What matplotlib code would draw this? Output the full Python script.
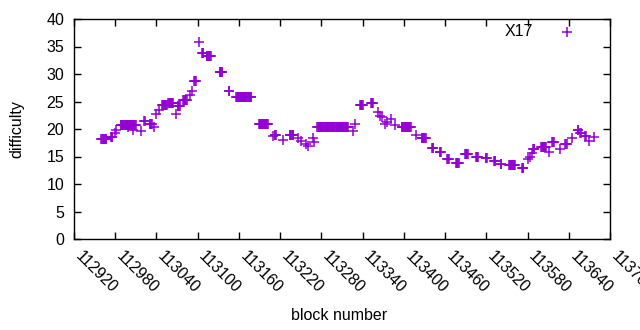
import numpy as np
import matplotlib
matplotlib.use("Agg")
import matplotlib.pyplot as plt
import matplotlib.transforms as mtransforms

plt.rcParams['font.family'] = ['Liberation Sans', 'DejaVu Sans']

# runs of blocks with the same difficulty: first block, last block, difficulty
run_start = [112960, 112974, 112979, 112981, 112988, 112999, 113006, 113018,
             113022, 113030, 113036, 113040, 113043, 113048, 113057, 113068,
             113071, 113079, 113089, 113092, 113095, 113102, 113106, 113113,
             113132, 113145, 113156, 113189, 113210, 113212, 113224, 113234,
             113246, 113250, 113258, 113261, 113268, 113269, 113274, 113326,
             113329, 113336, 113352, 113362, 113365, 113368, 113372, 113375,
             113381, 113387, 113397, 113417, 113426, 113441, 113452, 113463,
             113476, 113489, 113505, 113519, 113531, 113541, 113553, 113572,
             113581, 113583, 113586, 113588, 113600, 113611, 113616, 113627,
             113635, 113644, 113653, 113657, 113664, 113669, 113676]
run_end = [112967, 112976, 112979, 112981, 113010, 112999, 113006, 113018,
           113023, 113033, 113036, 113040, 113043, 113055, 113064, 113068,
           113074, 113084, 113089, 113092, 113097, 113102, 113108, 113119,
           113136, 113146, 113178, 113202, 113210, 113214, 113224, 113239,
           113246, 113250, 113258, 113261, 113268, 113269, 113319, 113326,
           113329, 113340, 113355, 113362, 113365, 113368, 113372, 113375,
           113381, 113387, 113410, 113417, 113432, 113443, 113454, 113465,
           113480, 113493, 113508, 113521, 113533, 113542, 113562, 113574,
           113581, 113583, 113586, 113590, 113607, 113611, 113618, 113627,
           113637, 113644, 113654, 113658, 113665, 113669, 113676]
run_diff = [18.2, 18.6, 19.3, 19.8, 20.7, 20.3, 19.8, 19.6,
            21.5, 21.0, 20.3, 22.7, 23.5, 24.3, 24.7, 22.8,
            24.1, 25.2, 26.2, 27.0, 28.8, 35.9, 33.9, 33.3,
            30.3, 26.9, 25.9, 20.9, 18.8, 18.9, 18.0, 18.9,
            18.3, 17.8, 17.3, 17.0, 18.4, 17.7, 20.3, 19.7,
            20.9, 24.4, 24.7, 23.1, 22.4, 22.2, 20.9, 21.3,
            21.8, 20.7, 20.3, 18.9, 18.3, 16.5, 15.9, 14.6,
            13.8, 15.4, 14.9, 14.7, 14.1, 13.7, 13.4, 13.0,
            14.5, 15.0, 15.6, 16.3, 16.7, 15.8, 17.6, 16.4,
            17.3, 18.3, 19.8, 19.3, 18.8, 17.9, 18.5]

blocks = []
diffs = []
for s, e, d in zip(run_start, run_end, run_diff):
    for b in range(s, e + 1):
        blocks.append(b)
        diffs.append(d)

xticks = np.arange(112920, 113701, 60)
yticks = np.arange(0, 41, 5)
purple = '#9400D3'

fig = plt.figure(figsize=(6.4, 3.3), dpi=100)
ax = fig.add_axes([74 / 640, 1 - 239 / 330, 536 / 640, 220 / 330])
ax.plot(blocks, diffs, linestyle='none', marker='+', color=purple,
        markersize=7.6, markeredgewidth=1.1)

ax.set_xlim(112920, 113700)
ax.set_ylim(0, 40)
ax.set_xticks(xticks)
ax.set_yticks(yticks)
ax.set_xticklabels([str(t) for t in xticks], rotation=-45, ha='left',
                   va='top', rotation_mode='anchor')
ax.tick_params(direction='in', top=True, right=True, length=5, width=1,
               labelsize=11.5, colors='black', pad=7)

# gnuplot puts the rotated labels a bit to the right of the tick
shift = mtransforms.ScaledTranslation(0.09, 0, fig.dpi_scale_trans)
for lab in ax.get_xticklabels():
    lab.set_transform(lab.get_transform() + shift)

for sp in ax.spines.values():
    sp.set_linewidth(1)

ax.set_ylabel('difficulty', fontsize=11.5)
ax.set_xlabel('block number', fontsize=11.5)
ax.yaxis.set_label_coords(-0.092, 0.5)
ax.xaxis.set_label_coords(0.494, -0.314)

ax.text(0.856, 0.945, 'X17', transform=ax.transAxes, ha='right',
        va='center', fontsize=11.5)
ax.plot([0.92], [0.941], transform=ax.transAxes, linestyle='none', marker='+',
        color=purple, markersize=7.6, markeredgewidth=1.1)

fig.savefig('out.png', dpi=100)
